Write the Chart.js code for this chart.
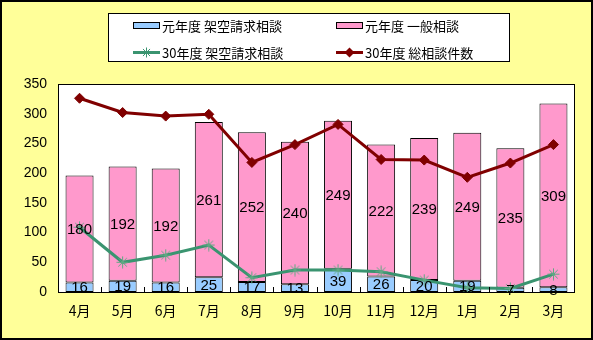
<!DOCTYPE html>
<html><head><meta charset="utf-8">
<script src="https://cdn.jsdelivr.net/npm/chart.js@4/dist/chart.umd.min.js"></script>
<style>
html,body{margin:0;padding:0;background:#FFFF99;}
#wrap{position:relative;width:593px;height:340px;}
canvas{display:block;}
</style></head><body>
<div id="wrap"><canvas id="c" width="593" height="340"></canvas></div>
<script>
const categories = ['4月','5月','6月','7月','8月','9月','10月','11月','12月','1月','2月','3月'];
const fraudR1 = [16,19,16,25,17,13,39,26,20,19,7,8];
const generalR1 = [180,192,192,261,252,240,249,222,239,249,235,309];
const fraudH30 = [109,50,62,79,24,37,37,34,20,7,6,30];
const totalH30 = [326,302,296,299,218,248,282,223,222,193,217,248];
const yTicks = [0,50,100,150,200,250,300,350];
const seriesLabels = ['元年度 架空請求相談','元年度 一般相談','30年度 架空請求相談','30年度 総相談件数'];

const CJK = '"Noto Sans CJK JP","Liberation Sans",sans-serif';

function drawStar(ctx,x,y,r){
  ctx.beginPath();
  for(let i=0;i<4;i++){
    const a=i*Math.PI/4;
    ctx.moveTo(x-Math.cos(a)*r,y-Math.sin(a)*r);
    ctx.lineTo(x+Math.cos(a)*r,y+Math.sin(a)*r);
  }
  ctx.stroke();
}
function drawDiamond(ctx,x,y,r){
  ctx.beginPath();
  ctx.moveTo(x,y-r);ctx.lineTo(x+r,y);ctx.lineTo(x,y+r);ctx.lineTo(x-r,y);ctx.closePath();
  ctx.fill();
}

const framePlugin = {
  id:'frame',
  beforeDraw(chart){
    const ctx=chart.ctx;
    ctx.save();
    ctx.fillStyle='#FFFF99';
    ctx.fillRect(0,0,chart.width,chart.height);
    ctx.strokeStyle='#000';ctx.lineWidth=2;
    ctx.strokeRect(1,1,chart.width-2,chart.height-2);
    const a=chart.chartArea;
    ctx.fillStyle='#fff';
    ctx.fillRect(a.left,a.top,a.right-a.left,a.bottom-a.top);
    ctx.restore();
  },
  afterDatasetsDraw(chart){
    const ctx=chart.ctx;const a=chart.chartArea;
    ctx.save();
    ctx.strokeStyle='#000';ctx.lineWidth=1;
    ctx.strokeRect(a.left+0.5,a.top+0.5,a.right-a.left-1,a.bottom-a.top);
    const n=categories.length;const w=(a.right-a.left)/n;
    ctx.beginPath();
    for(let i=1;i<n;i++){
      const x=Math.round(a.left+i*w)+0.5;
      ctx.moveTo(x,a.bottom);ctx.lineTo(x,a.bottom-5);
    }
    ctx.stroke();
    ctx.fillStyle='#000';
    ctx.font='15px "Liberation Sans",Arial,sans-serif';
    ctx.textAlign='center';ctx.textBaseline='middle';
    [0,1].forEach(di=>{
      const meta=chart.getDatasetMeta(di);
      meta.data.forEach((el,i)=>{
        const top=Math.min(el.y,el.base),bot=Math.max(el.y,el.base);
        ctx.fillText(String(chart.data.datasets[di].data[i]),el.x,(top+bot)/2+1);
      });
    });
    ctx.restore();
  },
  afterDraw(chart){
    const ctx=chart.ctx;
    ctx.save();
    ctx.fillStyle='#fff';ctx.fillRect(108,13,401,48);
    ctx.strokeStyle='#000';ctx.lineWidth=1;ctx.strokeRect(108.5,13.5,401,48);
    const ds=chart.data.datasets;
    const items=[
      {x:133,y:25,ds:ds[0],type:'bar'},
      {x:336,y:25,ds:ds[1],type:'bar'},
      {x:133,y:52,ds:ds[2],type:'star'},
      {x:336,y:52,ds:ds[3],type:'diamond'}
    ];
    ctx.font='13px '+CJK;ctx.textBaseline='middle';ctx.textAlign='left';
    items.forEach(it=>{
      if(it.type==='bar'){
        ctx.fillStyle=it.ds.backgroundColor;
        ctx.fillRect(it.x,it.y-3,27,6);
        ctx.strokeStyle='#000';ctx.lineWidth=1;
        ctx.strokeRect(it.x+0.5,it.y-2.5,26,6);
      }else{
        ctx.strokeStyle=it.ds.borderColor;ctx.lineWidth=3;
        ctx.beginPath();ctx.moveTo(it.x,it.y+0.5);ctx.lineTo(it.x+27,it.y+0.5);ctx.stroke();
        if(it.type==='star'){ctx.lineWidth=1;drawStar(ctx,it.x+13.5,it.y+0.5,5);}
        else{ctx.fillStyle=it.ds.borderColor;drawDiamond(ctx,it.x+13.5,it.y+0.5,5);}
      }
      ctx.fillStyle='#000';
      ctx.fillText(it.ds.label,it.x+29,it.y+1);
    });
    ctx.restore();
  }
};

const starCanvas=(()=>{const c=document.createElement('canvas');c.width=13;c.height=13;const x=c.getContext('2d');x.strokeStyle='#5FA883';x.lineWidth=1;drawStar(x,6.5,6.5,6);return c;})();

new Chart(document.getElementById('c'),{
  data:{
    labels:categories,
    datasets:[
      {type:'bar',label:seriesLabels[0],data:fraudR1,backgroundColor:'#99CCFF',borderColor:'#000',borderWidth:1,borderSkipped:false,stack:'bars',order:2,barPercentage:0.65,categoryPercentage:1},
      {type:'bar',label:seriesLabels[1],data:generalR1,backgroundColor:'#FF99CC',borderColor:'#000',borderWidth:1,borderSkipped:false,stack:'bars',order:2,barPercentage:0.65,categoryPercentage:1},
      {type:'line',label:seriesLabels[2],data:fraudH30,borderColor:'#3A9470',borderWidth:3,pointStyle:starCanvas,pointRadius:6,stack:'l1',order:1,tension:0},
      {type:'line',label:seriesLabels[3],data:totalH30,borderColor:'#800000',backgroundColor:'#800000',borderWidth:3,pointStyle:'rectRot',pointRadius:5,pointBackgroundColor:'#800000',pointBorderColor:'#800000',pointBorderWidth:1,stack:'l2',order:0,tension:0}
    ]
  },
  options:{
    responsive:false,animation:false,
    layout:{padding:{left:0,right:18,top:84,bottom:16}},
    plugins:{legend:{display:false},tooltip:{enabled:false}},
    scales:{
      x:{stacked:true,offset:true,grid:{display:false},border:{display:false},
        ticks:{color:'#000',font:{size:14,family:'"Noto Sans CJK JP",sans-serif'},padding:2},
        afterFit(s){s.height=32;}},
      y:{stacked:true,min:0,max:350,grid:{display:false,drawTicks:false},border:{display:false},
        afterBuildTicks(s){s.ticks=yTicks.map(v=>({value:v}));},
        ticks:{color:'#000',font:{size:14,family:'"Liberation Sans",Arial,sans-serif'},padding:11},
        afterFit(s){s.width=58;}}
    }
  },
  plugins:[framePlugin]
});
</script>
</body></html>
